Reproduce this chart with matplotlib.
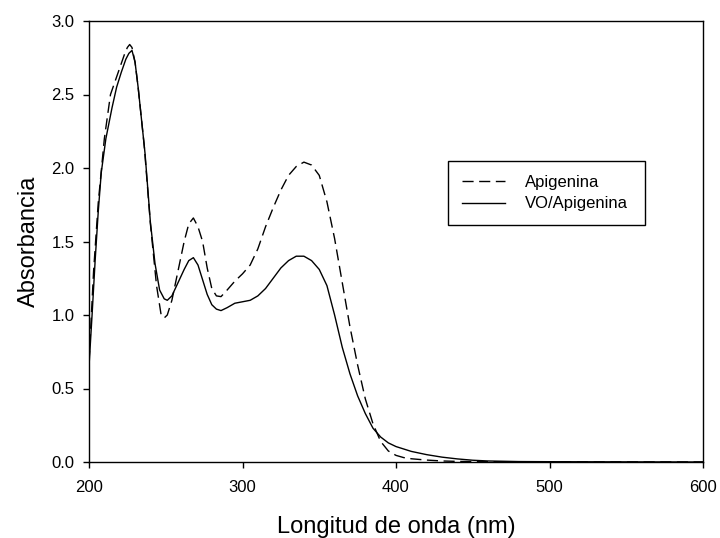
import numpy as np
import matplotlib
matplotlib.use("Agg")
import matplotlib.pyplot as plt

plt.rcParams['font.family'] = ['Liberation Sans', 'DejaVu Sans']

# Apigenina (dashed)
api_nm = [200, 203, 206, 210, 214, 219, 221, 223, 225, 226.5, 228, 230, 232, 236,
          240, 244, 247, 249, 251, 254, 258, 262, 265, 268, 271, 274, 277, 280,
          283, 286, 290, 295, 300, 305, 310, 315, 320, 325, 330, 335, 340, 345,
          350, 355, 360, 365, 370, 375, 380, 385, 390, 395, 400, 405, 410, 420,
          430, 440, 460, 500, 600]
api_abs = [0.68, 1.30, 1.76, 2.20, 2.50, 2.65, 2.71, 2.77, 2.82, 2.84, 2.82, 2.72,
           2.55, 2.15, 1.62, 1.20, 1.00, 0.98, 1.00, 1.10, 1.30, 1.50, 1.62, 1.66,
           1.60, 1.50, 1.32, 1.18, 1.13, 1.125, 1.17, 1.23, 1.28, 1.34, 1.45, 1.60,
           1.73, 1.85, 1.95, 2.01, 2.04, 2.02, 1.95, 1.77, 1.52, 1.22, 0.92, 0.66,
           0.43, 0.26, 0.14, 0.075, 0.045, 0.030, 0.022, 0.013, 0.007, 0.004,
           0.002, 0.001, 0.0]

# VO/Apigenina (solid)
vo_nm = [200, 202, 204, 206, 208, 211, 215, 218, 221, 224, 226, 228, 230, 232,
         234, 236.5, 240, 243, 246, 249, 251, 254, 258, 262, 265, 268, 271, 274,
         277, 280, 283, 286, 290, 295, 300, 305, 310, 315, 320, 325, 330, 335,
         340, 345, 350, 355, 360, 365, 370, 375, 380, 385, 390, 395, 400, 410,
         420, 430, 440, 450, 460, 480, 500, 600]
vo_abs = [0.65, 1.00, 1.37, 1.70, 1.97, 2.20, 2.41, 2.55, 2.65, 2.74, 2.78, 2.80,
          2.72, 2.55, 2.35, 2.10, 1.63, 1.35, 1.17, 1.11, 1.10, 1.13, 1.22, 1.31,
          1.37, 1.39, 1.34, 1.24, 1.14, 1.07, 1.04, 1.03, 1.05, 1.08, 1.09, 1.10,
          1.13, 1.18, 1.25, 1.32, 1.37, 1.40, 1.40, 1.37, 1.31, 1.20, 1.00, 0.78,
          0.60, 0.45, 0.33, 0.23, 0.17, 0.13, 0.105, 0.072, 0.050, 0.033, 0.021,
          0.012, 0.007, 0.003, 0.002, 0.0]

fig = plt.figure(figsize=(7.2, 5.38), dpi=100)
ax = fig.add_axes([89/720, 1 - 462/538, (703-89)/720, (462-21)/538])

ax.plot(api_nm, api_abs, color='black', lw=1.0, dashes=(8, 4), label='Apigenina')
ax.plot(vo_nm, vo_abs, color='black', lw=1.0, label='VO/Apigenina')

ax.set_xlim(200, 600)
ax.set_ylim(0, 3.0)
ax.set_xticks([200, 300, 400, 500, 600])
ax.set_yticks(np.arange(0, 3.01, 0.5))
ax.yaxis.set_major_formatter(matplotlib.ticker.FormatStrFormatter('%.1f'))
ax.tick_params(direction='out', length=4.5, width=1, labelsize=12)
ax.tick_params(axis='x', pad=8.5)
ax.tick_params(axis='y', pad=6)
for s in ax.spines.values():
    s.set_linewidth(1)

ax.set_xlabel('Longitud de onda (nm)', fontsize=17)
ax.set_ylabel('Absorbancia', fontsize=17)
ax.xaxis.set_label_coords(0.5, -0.122)
ax.yaxis.set_label_coords(-0.08, 0.5)

leg = ax.legend(loc='upper left',
                bbox_to_anchor=(448/720, 1 - 227/538, 197/720, 66/538),
                bbox_transform=fig.transFigure, mode='expand', fancybox=False,
                framealpha=1, edgecolor='black', fontsize=12, handlelength=2.6,
                handletextpad=1.15, borderpad=0.84, labelspacing=0.38,
                borderaxespad=0)
leg.get_frame().set_linewidth(1)

fig.savefig('out.png', dpi=100)
